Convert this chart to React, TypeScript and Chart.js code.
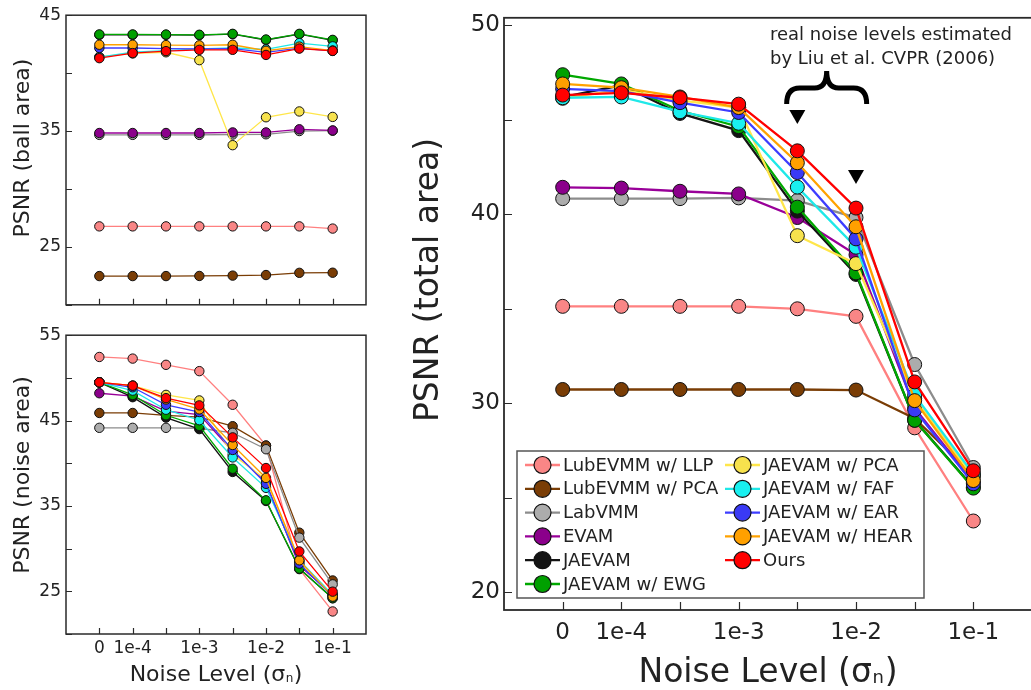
import React, { useEffect, useRef } from 'react';
import { Chart, registerables } from 'chart.js';

Chart.register(...registerables);

const FONT = '"DejaVu Sans", Verdana, sans-serif';
const INK = '#222222';

// ---------- data ----------
const noiseIndex = [0, 1, 2, 3, 4, 5, 6, 7];
const xTickLabelAt = [0, 1, 3, 5, 7];
const xTickLabels = ['0', '1e-4', '1e-3', '1e-2', '1e-1'];

const seriesNames = [
  'LubEVMM w/ LLP', 'LubEVMM w/ PCA', 'LabVMM', 'EVAM', 'JAEVAM', 'JAEVAM w/ EWG',
  'JAEVAM w/ PCA', 'JAEVAM w/ FAF', 'JAEVAM w/ EAR', 'JAEVAM w/ HEAR', 'Ours',
];
const lineColors = ['#ff8080', '#7a3d05', '#8c8c8c', '#990099', '#141414', '#00a800', '#ffe64a', '#1fe8e8', '#3d3dff', '#ffa200', '#ff0000'];
const fillColors = ['#f98686', '#7a3d05', '#acacac', '#8b008b', '#141414', '#00a000', '#f7e24d', '#19f0f0', '#3a3af5', '#ffa000', '#ff0000'];

// PSNR (ball area)
const ballLLP = [26.77, 26.77, 26.77, 26.77, 26.77, 26.77, 26.77, 26.58];
const ballLubPCA = [22.48, 22.48, 22.48, 22.49, 22.52, 22.57, 22.76, 22.77];
const ballLabVMM = [34.67, 34.67, 34.67, 34.67, 34.70, 34.72, 35.00, 35.03];
const ballEVAM = [34.83, 34.83, 34.83, 34.83, 34.88, 34.88, 35.15, 35.05];
const ballJAEVAM = [43.30, 43.30, 43.30, 43.28, 43.36, 42.86, 43.36, 42.83];
const ballEWG = [43.34, 43.34, 43.33, 43.31, 43.39, 42.90, 43.39, 42.87];
const ballPCA = [41.40, 41.70, 41.80, 41.12, 33.78, 36.19, 36.69, 36.22];
const ballFAF = [41.37, 41.81, 41.95, 42.09, 42.17, 42.05, 42.59, 42.31];
const ballEAR = [42.17, 42.17, 42.12, 42.09, 42.12, 41.79, 42.15, 41.92];
const ballHEAR = [42.45, 42.45, 42.42, 42.40, 42.45, 41.93, 42.29, 41.95];
const ballOurs = [41.29, 41.73, 41.90, 42.01, 42.01, 41.57, 42.12, 41.92];

// PSNR (noise area)
const noiseLLP = [52.45, 52.26, 51.53, 50.79, 46.85, 42.07, 27.60, 22.64];
const noiseLubPCA = [45.89, 45.89, 45.62, 45.40, 44.34, 42.07, 31.87, 26.27];
const noiseLabVMM = [44.15, 44.15, 44.15, 44.10, 43.57, 41.64, 31.29, 25.81];
const noiseEVAM = [48.20, 47.86, 46.10, 45.70, 41.40, 37.80, 28.00, 24.60];
const noiseJAEVAM = [49.48, 47.74, 45.35, 44.00, 38.98, 35.58, 27.66, 24.19];
const noiseEWG = [49.48, 48.00, 45.62, 44.38, 39.36, 35.66, 27.66, 24.19];
const noisePCA = [49.48, 49.09, 48.01, 47.36, 41.00, 38.10, 28.44, 24.58];
const noiseFAF = [49.48, 48.51, 46.27, 45.04, 40.68, 37.12, 28.63, 24.58];
const noiseEAR = [49.48, 48.90, 46.85, 46.00, 41.56, 37.59, 28.24, 24.38];
const noiseHEAR = [49.48, 49.09, 47.47, 46.31, 42.14, 38.28, 28.63, 24.38];
const noiseOurs = [49.48, 49.09, 47.63, 46.78, 43.03, 39.44, 29.67, 24.96];

// PSNR (total area)
const totalLLP = [35.13, 35.13, 35.13, 35.13, 35.00, 34.60, 28.70, 23.77];
const totalLubPCA = [30.73, 30.73, 30.73, 30.73, 30.73, 30.70, 29.20, 26.20];
const totalLabVMM = [40.83, 40.83, 40.83, 40.87, 40.73, 39.83, 32.05, 26.60];
const totalEVAM = [41.43, 41.39, 41.22, 41.08, 39.83, 37.86, 29.74, 25.83];
const totalJAEVAM = [46.20, 46.83, 45.34, 44.43, 40.17, 36.82, 29.10, 25.56];
const totalEWG = [47.39, 46.90, 45.48, 44.64, 40.38, 36.90, 29.10, 25.51];
const totalPCA = [46.14, 46.60, 46.03, 45.65, 38.87, 37.39, 30.26, 26.10];
const totalFAF = [46.17, 46.21, 45.43, 44.82, 41.44, 38.26, 30.43, 26.26];
const totalEAR = [46.64, 46.52, 45.91, 45.39, 42.21, 38.70, 29.65, 25.74];
const totalHEAR = [46.90, 46.70, 46.21, 45.65, 42.73, 39.34, 30.14, 25.91];
const totalOurs = [46.31, 46.43, 46.17, 45.83, 43.36, 40.33, 31.13, 26.43];

const ballSeries = [ballLLP, ballLubPCA, ballLabVMM, ballEVAM, ballJAEVAM, ballEWG, ballPCA, ballFAF, ballEAR, ballHEAR, ballOurs];
const noiseSeries = [noiseLLP, noiseLubPCA, noiseLabVMM, noiseEVAM, noiseJAEVAM, noiseEWG, noisePCA, noiseFAF, noiseEAR, noiseHEAR, noiseOurs];
const totalSeries = [totalLLP, totalLubPCA, totalLabVMM, totalEVAM, totalJAEVAM, totalEWG, totalPCA, totalFAF, totalEAR, totalHEAR, totalOurs];

const ballYTicks = [20, 25, 30, 35, 40, 45];
const ballYLabels = [25, 35, 45];
const noiseYTicks = [20, 25, 30, 35, 40, 45, 50, 55];
const noiseYLabels = [25, 35, 45, 55];
const totalYTicks = [20, 25, 30, 35, 40, 45, 50];
const totalYLabels = [20, 30, 40, 50];

const noteLines = ['real noise levels estimated', 'by Liu et al. CVPR (2006)'];

// ---------- panel specs ----------
type Spec = {
  left: number; top: number; width: number; height: number;
  pad: { left: number; top: number; right: number; bottom: number };
  yWidth: number; xHeight: number;
  xMin: number; xMax: number; yMin: number; yMax: number;
  yTicks: number[]; yLabels: number[];
  series: number[][];
  showX: boolean; xFont: number; xPad: number; yFont: number; yPad: number;
  pointR: number; lineW: number; tickLen: number; frameW: number;
  yTitle: string; yTitleX: number; yTitleY: number; yTitleFont: number;
  xTitleY: number; xTitleFont: number;
  legend: boolean; note: boolean;
};

const ballSpec: Spec = {
  left: 0, top: 0, width: 400, height: 320,
  pad: { left: 0, top: 11, right: 34, bottom: 7 }, yWidth: 66, xHeight: 0,
  xMin: -1, xMax: 8, yMin: 20, yMax: 45, yTicks: ballYTicks, yLabels: ballYLabels,
  series: ballSeries, showX: false, xFont: 17, xPad: 4, yFont: 17, yPad: 5,
  pointR: 4.7, lineW: 1.3, tickLen: 6, frameW: 1.5,
  yTitle: 'PSNR (ball area)', yTitleX: 23, yTitleY: 148, yTitleFont: 22,
  xTitleY: 0, xTitleFont: 0, legend: false, note: false,
};

const noiseSpec: Spec = {
  left: 0, top: 320, width: 400, height: 370,
  pad: { left: 0, top: 12, right: 34, bottom: 0 }, yWidth: 66, xHeight: 56,
  xMin: -1, xMax: 8, yMin: 20, yMax: 55, yTicks: noiseYTicks, yLabels: noiseYLabels,
  series: noiseSeries, showX: true, xFont: 17, xPad: 4, yFont: 17, yPad: 5,
  pointR: 4.7, lineW: 1.3, tickLen: 6, frameW: 1.5,
  yTitle: 'PSNR (noise area)', yTitleX: 23, yTitleY: 155, yTitleFont: 22,
  xTitleY: 353, xTitleFont: 22, legend: false, note: false,
};

const totalSpec: Spec = {
  left: 400, top: 0, width: 640, height: 690,
  pad: { left: 0, top: 9, right: 6.6, bottom: 0 }, yWidth: 104, xHeight: 80,
  xMin: -1, xMax: 8, yMin: 19.06, yMax: 50.4, yTicks: totalYTicks, yLabels: totalYLabels,
  series: totalSeries, showX: true, xFont: 23, xPad: 9, yFont: 23, yPad: 4,
  pointR: 7, lineW: 2.3, tickLen: 8, frameW: 1.8,
  yTitle: 'PSNR (total area)', yTitleX: 29, yTitleY: 280, yTitleFont: 33,
  xTitleY: 670, xTitleFont: 33, legend: true, note: true,
};

// ---------- decoration plugin ----------
function drawNoiseTitle(ctx: CanvasRenderingContext2D, cx: number, cy: number, size: number) {
  const main = 'Noise Level (\u03c3';
  const sub = 'n';
  const tail = ')';
  ctx.font = `${size}px ${FONT}`;
  const w1 = ctx.measureText(main).width;
  const w3 = ctx.measureText(tail).width;
  const subSize = Math.round(size * 0.55);
  ctx.font = `${subSize}px ${FONT}`;
  const w2 = ctx.measureText(sub).width;
  const total = w1 + w2 + w3 + size * 0.04;
  let x = cx - total / 2;
  ctx.textAlign = 'left';
  ctx.textBaseline = 'alphabetic';
  const base = cy + size * 0.36;
  ctx.font = `${size}px ${FONT}`;
  ctx.fillText(main, x, base);
  x += w1 + size * 0.02;
  ctx.font = `${subSize}px ${FONT}`;
  ctx.fillText(sub, x, base + size * 0.04);
  x += w2 + size * 0.02;
  ctx.font = `${size}px ${FONT}`;
  ctx.fillText(tail, x, base);
}

function makeDecor(spec: Spec) {
  return {
    id: 'decor',
    afterDraw(chart: any) {
      const { ctx, chartArea: a, scales } = chart;
      ctx.save();
      // frame
      ctx.strokeStyle = '#2a2a2a';
      ctx.lineWidth = spec.frameW;
      ctx.strokeRect(a.left, a.top, a.right - a.left, a.bottom - a.top);
      // inward ticks
      ctx.lineWidth = 1.2;
      ctx.beginPath();
      for (const v of noiseIndex) {
        const x = Math.round(scales.x.getPixelForValue(v)) + 0.5;
        ctx.moveTo(x, a.bottom);
        ctx.lineTo(x, a.bottom - spec.tickLen);
      }
      for (const v of spec.yTicks) {
        const y = Math.round(scales.y.getPixelForValue(v)) + 0.5;
        ctx.moveTo(a.left, y);
        ctx.lineTo(a.left + spec.tickLen, y);
      }
      ctx.stroke();
      ctx.fillStyle = INK;
      // y title
      ctx.save();
      ctx.translate(spec.yTitleX, spec.yTitleY);
      ctx.rotate(-Math.PI / 2);
      ctx.font = `${spec.yTitleFont}px ${FONT}`;
      ctx.textAlign = 'center';
      ctx.textBaseline = 'middle';
      ctx.fillText(spec.yTitle, 0, 0);
      ctx.restore();
      // x title
      if (spec.xTitleFont > 0) {
        drawNoiseTitle(ctx, (a.left + a.right) / 2, spec.xTitleY, spec.xTitleFont);
      }
      // legend
      if (spec.legend) {
        const bx = 517 - spec.left, by = 451, bw = 407, bh = 147;
        ctx.fillStyle = '#ffffff';
        ctx.fillRect(bx, by, bw, bh);
        ctx.strokeStyle = '#555555';
        ctx.lineWidth = 1.5;
        ctx.strokeRect(bx, by, bw, bh);
        seriesNames.forEach((name, i) => {
          const col = i < 6 ? 0 : 1;
          const row = i < 6 ? i : i - 6;
          const x0 = (col === 0 ? 525 : 725) - spec.left;
          const y = 465 + row * 23.8;
          ctx.strokeStyle = lineColors[i];
          ctx.lineWidth = 2.3;
          ctx.beginPath();
          ctx.moveTo(x0, y);
          ctx.lineTo(x0 + 35, y);
          ctx.stroke();
          ctx.beginPath();
          ctx.arc(x0 + 17.5, y, 8.5, 0, Math.PI * 2);
          ctx.fillStyle = fillColors[i];
          ctx.fill();
          ctx.strokeStyle = '#111';
          ctx.lineWidth = 1.2;
          ctx.stroke();
          ctx.fillStyle = INK;
          ctx.font = `18px ${FONT}`;
          ctx.textAlign = 'left';
          ctx.textBaseline = 'middle';
          ctx.fillText(name, x0 + 38, y + 1);
        });
      }
      // annotation
      if (spec.note) {
        ctx.fillStyle = INK;
        ctx.font = `18px ${FONT}`;
        ctx.textAlign = 'left';
        ctx.textBaseline = 'middle';
        ctx.fillText(noteLines[0], 770 - spec.left, 35);
        ctx.fillText(noteLines[1], 770 - spec.left, 59);
        const x4 = scales.x.getPixelForValue(4);
        const x5 = scales.x.getPixelForValue(5);
        const cx = (x4 + x5) / 2;
        // brace
        ctx.strokeStyle = '#000';
        ctx.lineWidth = 5;
        ctx.lineCap = 'butt';
        ctx.beginPath();
        const L = cx - 40, R = cx + 40, armY = 88, peakY = 71, endY = 104;
        ctx.moveTo(L, endY);
        ctx.quadraticCurveTo(L, armY, L + 13, armY);
        ctx.lineTo(cx - 12, armY);
        ctx.quadraticCurveTo(cx, armY, cx, peakY);
        ctx.quadraticCurveTo(cx, armY, cx + 12, armY);
        ctx.lineTo(R - 13, armY);
        ctx.quadraticCurveTo(R, armY, R, endY);
        ctx.stroke();
        // triangles
        ctx.fillStyle = '#000';
        const tri = (x: number, top: number) => {
          ctx.beginPath();
          ctx.moveTo(x - 8, top);
          ctx.lineTo(x + 8, top);
          ctx.lineTo(x, top + 14);
          ctx.closePath();
          ctx.fill();
        };
        tri(x4, 110);
        tri(x5, 170);
      }
      ctx.restore();
    },
  };
}

// ---------- panel component ----------
function Panel({ spec }: { spec: Spec }) {
  const ref = useRef<HTMLCanvasElement | null>(null);
  useEffect(() => {
    if (!ref.current) return;
    const datasets = seriesNames.map((name, i) => ({
      label: name,
      data: spec.series[i].map((v, k) => ({ x: noiseIndex[k], y: v })),
      borderColor: lineColors[i],
      borderWidth: spec.lineW,
      backgroundColor: fillColors[i],
      pointBackgroundColor: fillColors[i],
      pointBorderColor: '#111111',
      pointBorderWidth: 1,
      pointRadius: spec.pointR,
      tension: 0,
      fill: false,
    })).reverse();
    const chart = new Chart(ref.current, {
      type: 'line',
      data: { datasets },
      options: {
        responsive: false,
        animation: false,
        devicePixelRatio: 1,
        layout: { padding: spec.pad },
        plugins: { legend: { display: false }, tooltip: { enabled: false } },
        scales: {
          x: {
            type: 'linear',
            min: spec.xMin,
            max: spec.xMax,
            grid: { display: false, drawTicks: false },
            border: { display: false },
            afterBuildTicks: (s: any) => { s.ticks = noiseIndex.map((v) => ({ value: v })); },
            afterFit: (s: any) => { s.height = spec.xHeight; },
            ticks: {
              display: spec.showX,
              autoSkip: false,
              maxRotation: 0,
              padding: spec.xPad,
              color: INK,
              font: { family: FONT, size: spec.xFont },
              callback: (v: any) => {
                const k = xTickLabelAt.indexOf(Number(v));
                return k >= 0 ? xTickLabels[k] : '';
              },
            },
          },
          y: {
            type: 'linear',
            min: spec.yMin,
            max: spec.yMax,
            grid: { display: false, drawTicks: false },
            border: { display: false },
            afterBuildTicks: (s: any) => { s.ticks = spec.yTicks.map((v) => ({ value: v })); },
            afterFit: (s: any) => { s.width = spec.yWidth; },
            ticks: {
              autoSkip: false,
              padding: spec.yPad,
              color: INK,
              font: { family: FONT, size: spec.yFont },
              callback: (v: any) => (spec.yLabels.includes(Number(v)) ? String(v) : ''),
            },
          },
        },
      },
      plugins: [makeDecor(spec)],
    } as any);
    return () => chart.destroy();
  }, [spec]);
  return (
    <canvas
      ref={ref}
      width={spec.width}
      height={spec.height}
      style={{ position: 'absolute', left: spec.left, top: spec.top, width: spec.width, height: spec.height }}
    />
  );
}

export default function App() {
  return (
    <div style={{ position: 'fixed', left: 0, top: 0, width: 1031, height: 690, overflow: 'hidden', background: '#ffffff' }}>
      <Panel spec={ballSpec} />
      <Panel spec={noiseSpec} />
      <Panel spec={totalSpec} />
    </div>
  );
}
